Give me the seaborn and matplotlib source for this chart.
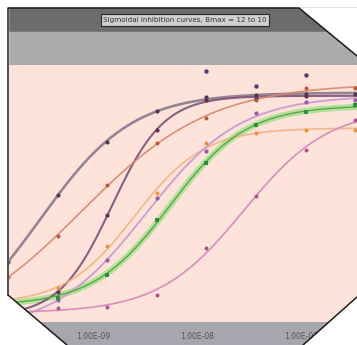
import numpy as np
import pandas as pd
import matplotlib
matplotlib.use("Agg")
import matplotlib.pyplot as plt
from matplotlib.patches import Rectangle, Polygon
from matplotlib.lines import Line2D
import seaborn as sns

sns.set_theme(style="white")
plt.rcParams['font.family'] = ['DejaVu Sans']

title = "Sigmoidal inhibition curves, Bmax = 12 to 10"

# 3-fold dilution series (M)
conc = [1.52e-10, 4.57e-10, 1.37e-9, 4.12e-9, 1.23e-8, 3.70e-8, 1.11e-7, 3.33e-7]
tick_pos = [-9, -8, -7]
tick_labels = ["1.00E-09", "1.00E-08", "1.00E-07"]

# responses
resp_a = [30, 63.5, 90, 105.5, 112.5, 113.5, 114, 114]
resp_b = [np.nan, 15, 53.5, 96, 111, 112, 113, np.nan]
resp_c = [22.5, 43, 68.5, 89.5, 102, 111, 117, 117]
resp_d = [11, 17, 38, 64.5, 89.5, 94.5, 96, 96]
resp_e = [np.nan, 11, 31, 62, 85.5, 104.5, 110, 111]
resp_f = [11, 12, 23.5, 51, 79.5, 98.5, 105, 108.5]
resp_g = [6, 7, 7.5, 13.5, 37, 63, 86, 101]
# stray replicate points above the plateau
resp_extra = [np.nan, np.nan, np.nan, np.nan, 125.5, 118, 123.5, np.nan]

series = [
    # values, marker color, line color, line width, marker, marker size
    (resp_a, "#4a3a4e", "#8a7b8d", 1.9, "o", 9),
    (resp_b, "#6a2f55", "#7d5277", 1.5, "o", 9),
    (resp_c, "#b8563a", "#d9866a", 1.2, "o", 8),
    (resp_d, "#e89040", "#f2b27e", 1.2, "o", 8),
    (resp_e, "#9a5aa8", "#c89ad0", 1.4, "o", 9),
    (resp_g, "#b0508f", "#d58bb8", 1.3, "o", 8),
]

W, H = 357, 345
def fx(px):
    return px / W
def fy(py):
    return 1 - py / H

XMIN, XMAX = -9.817, -6.462
logc = np.log10(conc)
xs_fit = np.linspace(XMIN, XMAX, 200)


def fit_4pl(x, y):
    # grid search over ec50 / hill, bottom and top by least squares
    m = ~np.isnan(y)
    x, y = x[m], y[m]
    best = None
    for ec in np.arange(-10.5, -6.0, 0.01):
        for h in np.arange(0.4, 3.0, 0.02):
            s = 1 / (1 + 10 ** ((ec - x) * h))
            A = np.column_stack([np.ones_like(s), s])
            coef, *_ = np.linalg.lstsq(A, y, rcond=None)
            err = np.sum((A @ coef - y) ** 2)
            if best is None or err < best[0]:
                best = (err, ec, h, coef)
    _, ec, h, coef = best
    return coef[0] + coef[1] / (1 + 10 ** ((ec - xs_fit) * h))


fig = plt.figure(figsize=(W / 100, H / 100), dpi=100)
fig.patch.set_facecolor("white")

# frame bands
fig.add_artist(Rectangle((fx(8), fy(32)), 1 - fx(8), 24 / H, transform=fig.transFigure,
                         color="#6c6c6c", zorder=-5))
fig.add_artist(Rectangle((fx(8), fy(65)), 1 - fx(8), 33 / H, transform=fig.transFigure,
                         color="#ababad", zorder=-5))
fig.add_artist(Rectangle((fx(8), 0), 1 - fx(8), fy(322), transform=fig.transFigure,
                         color="#a7a5ae", zorder=-5))

ax = fig.add_axes([fx(8), fy(322), 1 - fx(8), 257 / H])
ax.set_facecolor("#fde3d9")

for vals, mc, lc, lw, mk, ms in series:
    y = np.array(vals, dtype=float)
    sns.lineplot(x=xs_fit, y=fit_4pl(logc, y), color=lc, lw=lw, alpha=0.9, ax=ax, zorder=3)
    sns.scatterplot(x=logc, y=y, color=mc, marker=mk, s=ms, linewidth=0, ax=ax, zorder=4)

sns.scatterplot(x=logc, y=resp_extra, color="#4f3d6e", s=10, linewidth=0, ax=ax, zorder=4)

# green series drawn with a wide halo
y_f = np.array(resp_f, dtype=float)
curve_f = fit_4pl(logc, y_f)
sns.lineplot(x=xs_fit, y=curve_f, color="#a8e08f", lw=4.5, alpha=0.85, ax=ax, zorder=2)
sns.lineplot(x=xs_fit, y=curve_f, color="#5aa64a", lw=1.0, ax=ax, zorder=3)
sns.scatterplot(x=logc, y=y_f, color="#2f8f3a", marker="s", s=11, linewidth=0, ax=ax, zorder=4)

ax.set_xlim(XMIN, XMAX)
ax.set_ylim(0, 128.5)
ax.set_xticks(tick_pos)
ax.set_xticklabels(tick_labels, fontsize=5.5, color="#555555")
ax.tick_params(axis="x", length=0, pad=7)
ax.set_yticks([])
ax.set_xlabel("")
ax.set_ylabel("")
for s in ax.spines.values():
    s.set_visible(False)

fig.text(fx(185), fy(20), title, ha="center", va="center", fontsize=5.2, color="#333333",
         bbox=dict(boxstyle="square,pad=0.35", fc="#cfcfcf", ec="#2a2a2a", lw=0.8))

# cut corners
corners = [
    [(299, 8), (W + 1, 8), (W + 1, 56)],
    [(W + 1, 297), (W + 1, H + 1), (303, H + 1)],
    [(8, 295), (67, H + 1), (0, H + 1), (0, 295)],
]
for c in corners:
    fig.add_artist(Polygon([(fx(x), fy(y)) for x, y in c], closed=True,
                           transform=fig.transFigure, fc="white", ec="none", zorder=20))
fig.add_artist(Rectangle((0, 0), fx(8), 1, transform=fig.transFigure, color="white", zorder=19))

edges = [
    [(8, 295), (8, 8), (299, 8), (W, 56)],
    [(W, 297), (303, H)],
    [(67, H), (8, 295)],
]
for e in edges:
    xs = [fx(x) for x, y in e]
    ys = [fy(y) for x, y in e]
    fig.add_artist(Line2D(xs, ys, transform=fig.transFigure, color="#1e1e1e", lw=1.1, zorder=21))

fig.savefig("out.png", dpi=100)
